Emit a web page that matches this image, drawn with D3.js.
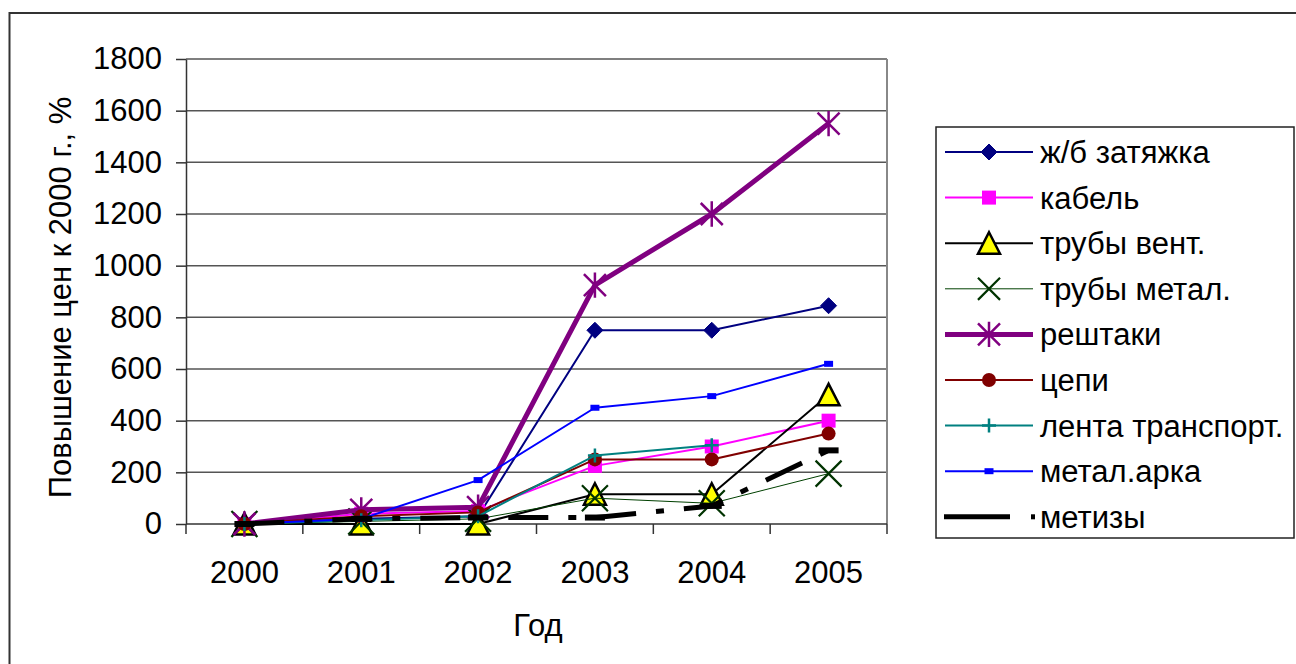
<!DOCTYPE html>
<html>
<head>
<meta charset="utf-8">
<script src="https://cdn.jsdelivr.net/npm/d3@7"></script>
<style>
  html, body { margin: 0; padding: 0; background: #fff; }
  svg { display: block; font-family: "Liberation Sans", Arial, sans-serif; }
</style>
</head>
<body>
<svg id="chart" width="1296" height="664"></svg>
<script>
// Years on the category axis
const years = ["2000", "2001", "2002", "2003", "2004", "2005"];
// Y axis tick values
const yTicks = [0, 200, 400, 600, 800, 1000, 1200, 1400, 1600, 1800];

// Price growth relative to 2000, %
const zhbZatyazhka   = [0, 20, 30, 750, 750, 845];
const kabel          = [0, 40, 50, 225, 300, 400];
const trubyVent      = [0, 0, 0, 115, 115, 500];
const trubyMetal     = [0, 10, 20, 100, 80, 195];
const reshtaki       = [0, 55, 65, 925, 1200, 1550];
const tsepi          = [0, 30, 45, 250, 250, 350];
const lentaTransport = [0, 15, 30, 265, 305, null];
const metalArka      = [0, 20, 170, 450, 495, 620];
const metizy         = [0, 20, 25, 25, 70, 285];

const seriesNames = ["ж/б затяжка", "кабель", "трубы вент.", "трубы метал.", "рештаки",
                     "цепи", "лента транспорт.", "метал.арка", "метизы"];

const series = [
  { name: seriesNames[0], values: zhbZatyazhka,   color: "#000080", width: 2,   marker: "diamond", mfill: "#000080", mstroke: "#000080" },
  { name: seriesNames[1], values: kabel,          color: "#FF00FF", width: 2,   marker: "square",  mfill: "#FF00FF", mstroke: "#FF00FF" },
  { name: seriesNames[2], values: trubyVent,      color: "#000000", width: 2,   marker: "triangle",mfill: "#FFFF00", mstroke: "#000000" },
  { name: seriesNames[3], values: trubyMetal,     color: "#004000", width: 1,   marker: "x",       mfill: "none",    mstroke: "#003300" },
  { name: seriesNames[4], values: reshtaki,       color: "#800080", width: 5,   marker: "star",    mfill: "none",    mstroke: "#800080" },
  { name: seriesNames[5], values: tsepi,          color: "#800000", width: 2,   marker: "circle",  mfill: "#800000", mstroke: "#800000" },
  { name: seriesNames[6], values: lentaTransport, color: "#008080", width: 2,   marker: "plus",    mfill: "none",    mstroke: "#008080" },
  { name: seriesNames[7], values: metalArka,      color: "#0000FF", width: 2,   marker: "smallrect", mfill: "#0000FF", mstroke: "#0000FF" },
  { name: seriesNames[8], values: metizy,         color: "#000000", width: 5,   marker: "bar",     mfill: "#000000", mstroke: "#000000", dash: "40,20,8,20" }
];

const svg = d3.select("#chart");

// outer chart frame (runs off the right and bottom edges)
svg.append("rect")
  .attr("x", 9.5).attr("y", 13)
  .attr("width", 1300).attr("height", 700)
  .attr("fill", "none").attr("stroke", "#333").attr("stroke-width", 2);

const plot = { left: 186, right: 887, top: 59, bottom: 524 };

const x = d3.scaleBand().domain(years).range([plot.left, plot.right]);
const y = d3.scaleLinear().domain([0, 1800]).range([plot.bottom, plot.top]);

// horizontal gridlines
svg.append("g")
  .selectAll("line").data(yTicks.filter(d => d > 0)).join("line")
  .attr("x1", plot.left).attr("x2", plot.right)
  .attr("y1", d => y(d)).attr("y2", d => y(d))
  .attr("stroke", "#555").attr("stroke-width", 1.5);

// plot area right border
svg.append("line")
  .attr("x1", plot.right).attr("x2", plot.right)
  .attr("y1", plot.top).attr("y2", plot.bottom)
  .attr("stroke", "#888").attr("stroke-width", 2);

// Y axis
const yAxis = d3.axisLeft(y).tickValues(yTicks).tickFormat(d3.format("d"))
  .tickSize(10).tickPadding(14).tickSizeOuter(0);
const gy = svg.append("g").attr("transform", `translate(${plot.left},0)`).call(yAxis);
gy.select(".domain").attr("stroke", "#333").attr("stroke-width", 1.5);
gy.selectAll(".tick line").attr("stroke", "#333").attr("stroke-width", 1.5);
gy.selectAll("text").attr("font-size", 31).attr("fill", "#000")
  .attr("font-family", "Liberation Sans, Arial, sans-serif");

// X axis: labels centred in each band, ticks on band boundaries
const xAxisG = svg.append("g").attr("transform", `translate(0,${plot.bottom})`);
xAxisG.append("line").attr("x1", plot.left).attr("x2", plot.right)
  .attr("y1", 0).attr("y2", 0).attr("stroke", "#333").attr("stroke-width", 1.5);
const bounds = years.map(d => x(d)).concat([plot.right]);
xAxisG.selectAll("line.tk").data(bounds).join("line").attr("class", "tk")
  .attr("x1", d => d).attr("x2", d => d).attr("y1", 0).attr("y2", 10)
  .attr("stroke", "#333").attr("stroke-width", 1.5);
xAxisG.selectAll("text").data(years).join("text")
  .attr("x", d => x(d) + x.bandwidth() / 2).attr("y", 59)
  .attr("text-anchor", "middle").attr("font-size", 31).text(d => d);

// axis titles
svg.append("text")
  .attr("transform", `translate(71,${(plot.top + plot.bottom) / 2 + 6}) rotate(-90)`)
  .attr("text-anchor", "middle").attr("font-size", 31)
  .text("Повышение цен к 2000 г., %");
svg.append("text")
  .attr("x", 538).attr("y", 636).attr("text-anchor", "middle").attr("font-size", 31)
  .text("Год");

// marker drawing
function drawMarker(g, s, cx, cy, scale) {
  const k = scale || 1;
  switch (s.marker) {
    case "diamond": {
      const r = 8 * k;
      g.append("path").attr("d", `M${cx},${cy - r}L${cx + r},${cy}L${cx},${cy + r}L${cx - r},${cy}Z`)
        .attr("fill", s.mfill).attr("stroke", s.mstroke).attr("stroke-width", 1);
      break;
    }
    case "square": {
      const r = 7 * k;
      g.append("rect").attr("x", cx - r).attr("y", cy - r).attr("width", 2 * r).attr("height", 2 * r)
        .attr("fill", s.mfill);
      break;
    }
    case "triangle": {
      const w = 11 * k, h = 11 * k;
      g.append("path").attr("d", `M${cx},${cy - h}L${cx + w},${cy + h * 0.95}L${cx - w},${cy + h * 0.95}Z`)
        .attr("fill", s.mfill).attr("stroke", s.mstroke).attr("stroke-width", 2.5);
      break;
    }
    case "x": {
      const r = 13 * k;
      g.append("path").attr("d", `M${cx - r},${cy - r}L${cx + r},${cy + r}M${cx - r},${cy + r}L${cx + r},${cy - r}`)
        .attr("stroke", s.mstroke).attr("stroke-width", 2.2);
      break;
    }
    case "star": {
      const r = 11 * k;
      g.append("path").attr("d",
        `M${cx - r},${cy - r}L${cx + r},${cy + r}M${cx - r},${cy + r}L${cx + r},${cy - r}M${cx},${cy - r * 1.15}L${cx},${cy + r * 1.15}`)
        .attr("stroke", s.mstroke).attr("stroke-width", 2.5);
      break;
    }
    case "circle":
      g.append("circle").attr("cx", cx).attr("cy", cy).attr("r", 7 * k).attr("fill", s.mfill);
      break;
    case "plus": {
      const r = 7 * k;
      g.append("path").attr("d", `M${cx - r},${cy}L${cx + r},${cy}M${cx},${cy - r}L${cx},${cy + r}`)
        .attr("stroke", s.mstroke).attr("stroke-width", 2.5);
      break;
    }
    case "smallrect":
      g.append("rect").attr("x", cx - 4.5).attr("y", cy - 3).attr("width", 9).attr("height", 6).attr("fill", s.mfill);
      break;
    case "bar":
      g.append("rect").attr("x", cx - 10).attr("y", cy - 3).attr("width", 20).attr("height", 6).attr("fill", s.mfill);
      break;
  }
}

// series lines and markers
const line = d3.line()
  .defined(d => d.v !== null)
  .x(d => x(d.year) + x.bandwidth() / 2)
  .y(d => y(d.v));

series.forEach(s => {
  const pts = years.map((yr, i) => ({ year: yr, v: s.values[i] }));
  const g = svg.append("g");
  g.append("path").datum(pts).attr("d", line)
    .attr("fill", "none").attr("stroke", s.color).attr("stroke-width", s.width)
    .attr("stroke-linejoin", "round")
    .attr("stroke-dasharray", s.dash || null);
  pts.filter(p => p.v !== null).forEach(p => drawMarker(g, s, x(p.year) + x.bandwidth() / 2, y(p.v)));
});

// legend
const legend = svg.append("g");
legend.append("rect")
  .attr("x", 936).attr("y", 127).attr("width", 358).attr("height", 411)
  .attr("fill", "#fff").attr("stroke", "#222").attr("stroke-width", 1.5);
series.forEach((s, i) => {
  const cy = 152 + i * 45.6;
  const row = legend.append("g");
  if (s.dash) {
    row.append("line").attr("x1", 944).attr("x2", 1010).attr("y1", cy).attr("y2", cy)
      .attr("stroke", s.color).attr("stroke-width", s.width);
    row.append("rect").attr("x", 1031).attr("y", cy - 2.5).attr("width", 4).attr("height", 5).attr("fill", s.color);
  } else {
    row.append("line").attr("x1", 945).attr("x2", 1033).attr("y1", cy).attr("y2", cy)
      .attr("stroke", s.color).attr("stroke-width", s.width);
    drawMarker(row, s, 989, cy, s.marker === "x" ? 0.85 : 1);
  }
  row.append("text").attr("x", 1040).attr("y", cy + 11).attr("font-size", 31).text(s.name);
});
</script>
</body>
</html>
